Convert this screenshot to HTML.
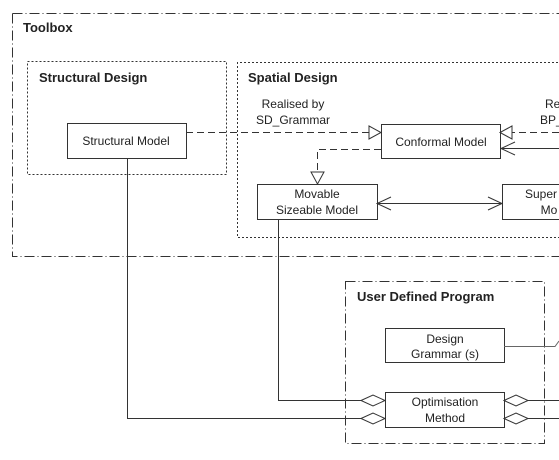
<!DOCTYPE html>
<html><head><style>
body{margin:0;background:#fff}
svg text{font-family:"Liberation Sans",sans-serif;fill:#222}
</style></head><body>
<svg width="559" height="455" xmlns="http://www.w3.org/2000/svg">
<g fill="none" stroke="#333" stroke-width="1">
<path d="M12.5 13.5H570M12.5 13.5V256.5H570" stroke-dasharray="10,3,1,3"/>
<rect x="27.5" y="61.5" width="199" height="113" stroke-dasharray="2,2"/>
<path d="M570 62.5H237.5V237.5H570" stroke-dasharray="2,2"/>
<path d="M345.5 281.5H544.5V443.5H345.5Z" stroke-dasharray="10,3,1,3"/>
<rect x="67.5" y="123.5" width="119" height="35"/>
<rect x="381.5" y="124.5" width="119" height="34"/>
<rect x="257.5" y="184.5" width="120" height="35"/>
<rect x="502.5" y="184.5" width="70" height="35"/>
<rect x="385.5" y="328.5" width="119" height="34"/>
<rect x="385.5" y="392.5" width="119" height="35"/>
<path d="M186 132.5H369" stroke-dasharray="7,4"/>
<path d="M369 126L381 132.5L369 139Z"/>
<path d="M559 132.5H512" stroke-dasharray="7,4"/>
<path d="M512 126L500 132.5L512 139Z"/>
<path d="M559 148.5H501M515 142L501 148.5L515 155"/>
<path d="M381 149.5H317.5V172" stroke-dasharray="7,4"/>
<path d="M311 172L317.5 184L324 172Z"/>
<path d="M377 203.5H502M391 197L377 203.5L391 210M488 197L502 203.5L488 210"/>
<path d="M278.5 219V400.5H361M127.5 158V418.5H361"/>
<path d="M361 400.5L373 395L385 400.5L373 406Z M361 418.5L373 413L385 418.5L373 424Z"/>
<path d="M504 400.5L516 395L528 400.5L516 406Z M504 418.5L516 413L528 418.5L516 424Z"/>
<path d="M528 400.5H559M528 418.5H559"/>
<path d="M504 346.5H555L559 341" stroke="#666"/>
</g>
<g font-size="13" font-weight="bold">
<text x="23" y="32">Toolbox</text>
<text x="39" y="82">Structural Design</text>
<text x="248" y="82">Spatial Design</text>
<text x="357" y="301">User Defined Program</text>
</g>
<g font-size="12" text-anchor="middle">
<text x="126" y="145">Structural Model</text>
<text x="441" y="146">Conformal Model</text>
<text x="317" y="198">Movable</text>
<text x="317" y="214">Sizeable Model</text>
<text x="541" y="198">Super</text>
<text x="549" y="214">Mo</text>
<text x="293" y="108">Realised by</text>
<text x="293" y="124">SD_Grammar</text>
<text x="445" y="343">Design</text>
<text x="445" y="358">Grammar (s)</text>
<text x="445" y="406">Optimisation</text>
<text x="445" y="422">Method</text>
</g>
<text x="545" y="108" font-size="12">Re</text>
<text x="540" y="124" font-size="12">BP_</text>
</svg>
</body></html>
